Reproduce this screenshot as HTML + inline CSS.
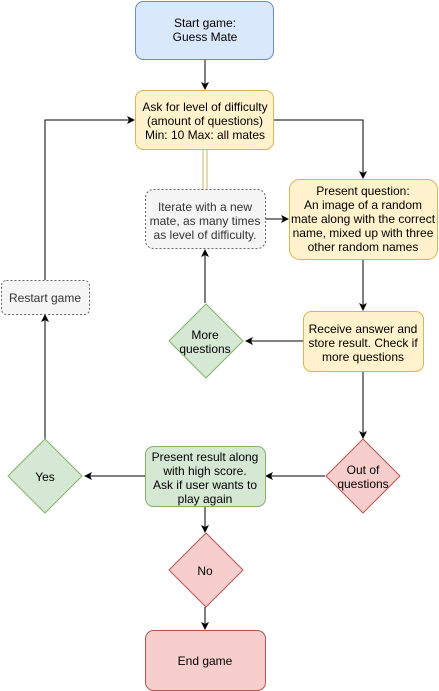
<!DOCTYPE html>
<html><head><style>
body{margin:0;background:#fff;}
svg{display:block;font-family:"Liberation Sans",Helvetica,sans-serif;font-size:12px;}
</style></head><body>
<svg width="439" height="691" viewBox="0 0 439 691" xmlns="http://www.w3.org/2000/svg">
<defs><marker id="a" markerWidth="8" markerHeight="8" refX="7" refY="4" orient="auto" markerUnits="userSpaceOnUse"><path d="M0,0 L8,4 L0,8 L2,4 Z" fill="#000"/></marker></defs>
<g stroke="#000" stroke-width="1" fill="none">
<line x1="205" y1="60" x2="205" y2="89" marker-end="url(#a)"/>
<polyline points="274,40 363,40" stroke="none"/>
<polyline points="274,120 363,120 363,178" marker-end="url(#a)"/>
<line x1="265" y1="219" x2="288" y2="219" marker-end="url(#a)"/>
<line x1="205" y1="303" x2="205" y2="250" marker-end="url(#a)"/>
<line x1="303" y1="341" x2="246" y2="341" marker-end="url(#a)"/>
<line x1="363" y1="259" x2="363" y2="310" marker-end="url(#a)"/>
<line x1="363" y1="371" x2="363" y2="438" marker-end="url(#a)"/>
<line x1="325" y1="476" x2="266" y2="476" marker-end="url(#a)"/>
<line x1="145" y1="476" x2="85" y2="476" marker-end="url(#a)"/>
<line x1="45" y1="439" x2="45" y2="315" marker-end="url(#a)"/>
<polyline points="45,280 45,120 134,120" marker-end="url(#a)"/>
<line x1="205" y1="506" x2="205" y2="532" marker-end="url(#a)"/>
<line x1="205" y1="607" x2="205" y2="629" marker-end="url(#a)"/>
</g>
<line x1="203" y1="150" x2="203" y2="189" stroke="#d6b656"/>
<line x1="207" y1="150" x2="207" y2="189" stroke="#d6b656"/>
<rect x="135.5" y="1.5" width="138" height="58" rx="8" fill="#dae8fc" stroke="#6c8ebf"/>
<rect x="135.5" y="90.5" width="138" height="59" rx="8" fill="#fff2cc" stroke="#d6b656"/>
<rect x="145.5" y="189.5" width="120" height="59" rx="8" fill="#f5f5f5" stroke="#666" stroke-dasharray="2,2"/>
<rect x="289.5" y="179.5" width="148" height="80" rx="10" fill="#fff2cc" stroke="#d6b656"/>
<rect x="1.5" y="280.5" width="88" height="34" rx="5" fill="#f5f5f5" stroke="#666" stroke-dasharray="2,2"/>
<path d="M206,304 L243,341 L206,378 L169,341 Z" fill="#d5e8d4" stroke="#82b366" stroke-linejoin="round"/>
<rect x="303.5" y="311.5" width="120" height="60" rx="8" fill="#fff2cc" stroke="#d6b656"/>
<path d="M363,439 L400,476 L363,513 L326,476 Z" fill="#f8cecc" stroke="#b85450" stroke-linejoin="round"/>
<rect x="145.5" y="446.5" width="120" height="60" rx="8" fill="#d5e8d4" stroke="#82b366"/>
<path d="M45,439 L82,476 L45,513 L8,476 Z" fill="#d5e8d4" stroke="#82b366" stroke-linejoin="round"/>
<path d="M206,533 L243,570 L206,607 L169,570 Z" fill="#f8cecc" stroke="#b85450" stroke-linejoin="round"/>
<rect x="145.5" y="630.5" width="120" height="60" rx="8" fill="#f8cecc" stroke="#b85450"/>
<g text-anchor="middle" fill="#000">
<text x="205" y="27">Start game:</text><text x="205" y="41">Guess Mate</text>
<text x="205" y="111">Ask for level of difficulty</text><text x="205" y="125">(amount of questions)</text><text x="205" y="139">Min: 10 Max: all mates</text>
<text x="205" y="211" fill="#333">Iterate with a new</text><text x="205" y="225" fill="#333">mate, as many times</text><text x="205" y="239" fill="#333">as level of difficulty.</text>
<text x="363" y="195">Present question:</text><text x="363" y="209">An image of a random</text><text x="363" y="223">mate along with the correct</text><text x="363" y="237">name, mixed up with three</text><text x="363" y="251">other random names</text>
<text x="45" y="302" fill="#333">Restart game</text>
<text x="205" y="339">More</text><text x="205" y="353">questions</text>
<text x="363" y="333">Receive answer and</text><text x="363" y="347">store result. Check if</text><text x="363" y="361">more questions</text>
<text x="363" y="474">Out of</text><text x="363" y="488">questions</text>
<text x="205" y="461">Present result along</text><text x="205" y="475">with high score.</text><text x="205" y="489">Ask if user wants to</text><text x="205" y="503">play again</text>
<text x="45" y="481">Yes</text>
<text x="205" y="575">No</text>
<text x="205" y="665">End game</text>
</g>
</svg>
</body></html>
